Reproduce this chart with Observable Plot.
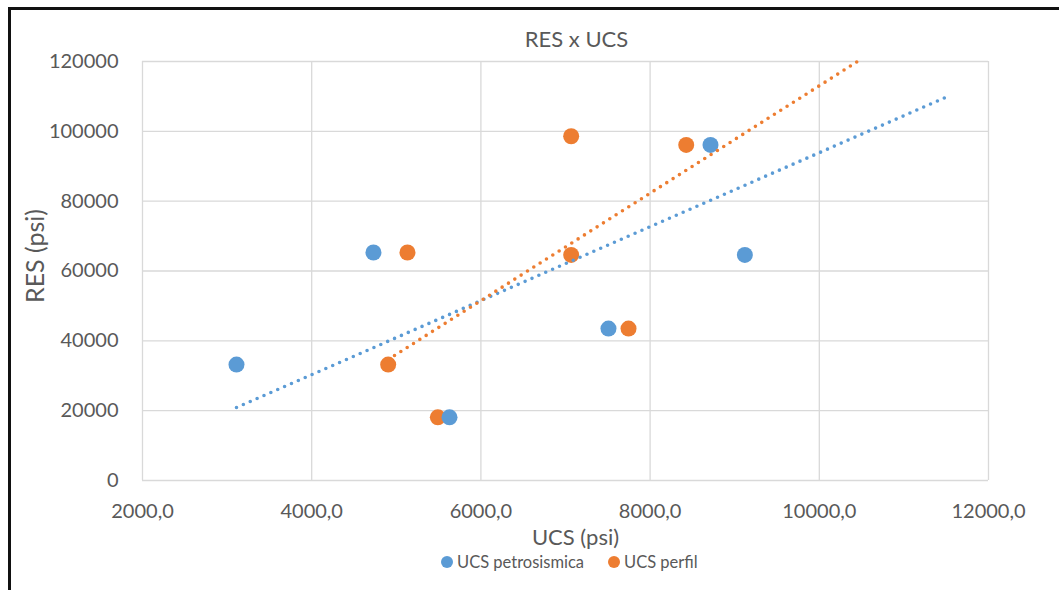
<!DOCTYPE html>
<html><head><meta charset="utf-8">
<script src="https://cdn.jsdelivr.net/npm/d3@7"></script>
<script src="https://cdn.jsdelivr.net/npm/@observablehq/plot@0.6"></script>
<style>
html,body{margin:0;padding:0;background:#fff;}
body{width:1059px;height:590px;overflow:hidden;position:relative;font-family:Lato,"Open Sans",sans-serif;color:#595959;}
#frame{position:absolute;left:8px;top:7px;width:1200px;height:800px;border-left:3px solid #111;border-top:3px solid #111;pointer-events:none;}
#title{height:50px;box-sizing:border-box;padding-top:28px;padding-left:94px;font-size:22px;line-height:22px;text-align:center;}
#chart svg{display:block;overflow:visible;}
#legend{position:absolute;left:441px;top:554px;height:16px;font-size:16.5px;line-height:16px;display:flex;align-items:center;}
.item{display:flex;align-items:center;}
.item .sw{width:12px;height:12px;border-radius:50%;margin-right:4px;flex:none;}
</style>
</head><body>
<div id="frame"></div>
<div id="title">RES x UCS</div>
<div id="chart"></div>
<div id="legend"></div>
<script>
// Series names and colours
const seriesNames = ["UCS petrosismica", "UCS perfil"];
const seriesColors = ["#5B9BD5", "#ED7D31"];

// UCS petrosismica
const ucsPetro = [3111, 4730, 5629, 7508, 8714, 9120];
const resPetro = [33200, 65300, 18100, 43500, 96100, 64600];

// UCS perfil
const ucsPerfil = [4904, 5132, 5491, 7067, 7067, 7745, 8427];
const resPerfil = [33200, 65300, 18100, 98600, 64600, 43500, 96100];

// Trendline endpoints
const trendPetroX = [3111, 11531];
const trendPetroY = [20900, 110100];
const trendPerfilX = [4904, 10452];
const trendPerfilY = [34650, 120000];

// Axis ticks
const xTicks = [2000, 4000, 6000, 8000, 10000, 12000];
const yTicks = [0, 20000, 40000, 60000, 80000, 100000, 120000];

const petro = ucsPetro.map((x, i) => ({x, y: resPetro[i]}));
const perfil = ucsPerfil.map((x, i) => ({x, y: resPerfil[i]}));
const trendPetro = trendPetroX.map((x, i) => ({x, y: trendPetroY[i]}));
const trendPerfil = trendPerfilX.map((x, i) => ({x, y: trendPerfilY[i]}));

const fmtX = d => d.toFixed(1).replace(".", ",");
const grid = {stroke: "#d9d9d9", strokeOpacity: 1, strokeWidth: 1.3};
const dotted = {strokeWidth: 3.6, strokeDasharray: "0,7.5", strokeLinecap: "round"};

const chart = Plot.plot({
  width: 1059, height: 495,
  marginTop: 11, marginBottom: 65, marginLeft: 142, marginRight: 71,
  style: {fontFamily: "Lato, 'Open Sans', sans-serif", fontSize: "20px", color: "#595959", background: "transparent", overflow: "visible"},
  x: {domain: [2000, 12000]},
  y: {domain: [0, 120000]},
  marks: [
    Plot.gridX(xTicks, grid),
    Plot.gridY(yTicks, grid),
    Plot.axisX(xTicks, {tickSize: 0, tickPadding: 23, tickFormat: fmtX, label: null, fontSize: 20}),
    Plot.axisY(yTicks, {tickSize: 0, tickPadding: 24, tickFormat: d => String(d), label: null, fontSize: 20}),
    Plot.dot(perfil, {x: "x", y: "y", r: 8, fill: seriesColors[1], stroke: "none"}),
    Plot.dot(petro, {x: "x", y: "y", r: 8, fill: seriesColors[0], stroke: "none"}),
    Plot.line(trendPetro, {x: "x", y: "y", stroke: seriesColors[0], ...dotted}),
    Plot.line(trendPerfil, {x: "x", y: "y", stroke: seriesColors[1], ...dotted}),
    Plot.text(["UCS (psi)"], {frameAnchor: "bottom", textAnchor: "middle", lineAnchor: "middle", dx: 10, dy: 57, fontSize: 22, fill: "#595959"}),
    Plot.text(["RES (psi)"], {frameAnchor: "left", textAnchor: "middle", lineAnchor: "middle", rotate: -90, dx: -107, dy: -15, fontSize: 25, fill: "#595959"})
  ]
});
document.getElementById("chart").appendChild(chart);

const legend = document.getElementById("legend");
seriesNames.forEach((name, i) => {
  const item = document.createElement("div");
  item.className = "item";
  if (i === 0) item.style.width = "167px";
  const sw = document.createElement("span");
  sw.className = "sw";
  sw.style.background = seriesColors[i];
  const t = document.createElement("span");
  t.textContent = name;
  item.appendChild(sw);
  item.appendChild(t);
  legend.appendChild(item);
});
</script>
</body></html>
